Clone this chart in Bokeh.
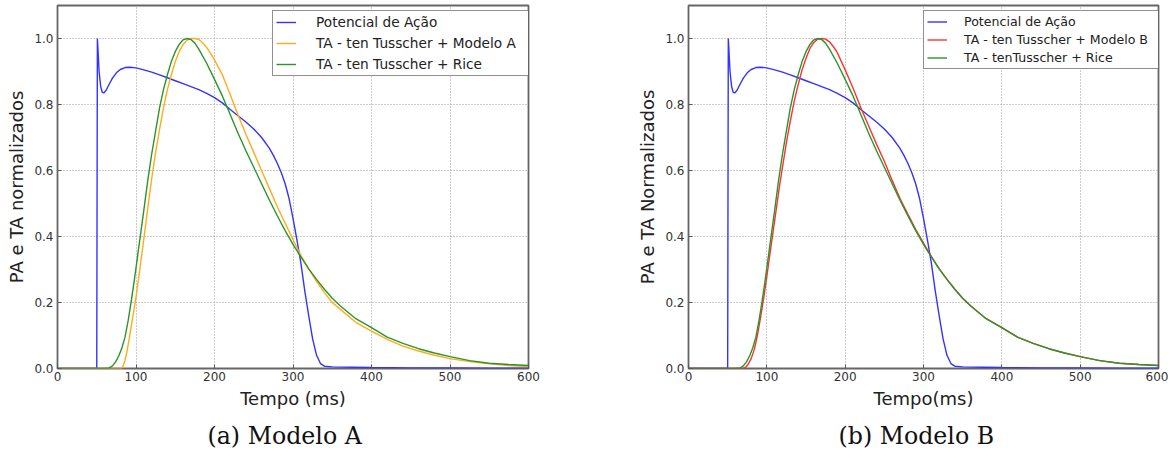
from bokeh.plotting import figure
from bokeh.models import Legend, LegendItem, FixedTicker, Range1d, Title, PrintfTickFormatter
from bokeh.layouts import row
from bokeh.embed import file_html
from bokeh.resources import INLINE

# ---------------- data ----------------
x_ticks = [0, 100, 200, 300, 400, 500, 600]
y_ticks = [0.0, 0.2, 0.4, 0.6, 0.8, 1.0]

ap_t = [0, 50, 50.8, 51.5, 53, 55, 57, 59, 62, 66, 70, 75, 80, 86, 92, 100, 110, 120,
        130, 140, 150, 160, 170, 180, 190, 200, 210, 220, 230, 240, 250, 260, 270, 275,
        280, 285, 290, 295, 300, 305, 310, 315, 320, 325, 330, 335, 340, 350, 375, 400,
        450, 500, 550, 600]
ap_v = [0, 0, 1.0, 0.97, 0.9, 0.855, 0.837, 0.835, 0.843, 0.862, 0.88, 0.896, 0.906,
        0.912, 0.913, 0.911, 0.905, 0.898, 0.89, 0.881, 0.872, 0.863, 0.854, 0.845, 0.834,
        0.821, 0.805, 0.785, 0.766, 0.747, 0.726, 0.70, 0.667, 0.646, 0.622, 0.594, 0.56,
        0.515, 0.455, 0.39, 0.32, 0.235, 0.16, 0.09, 0.04, 0.015, 0.007, 0.005, 0.004,
        0.003, 0.002, 0.002, 0.001, 0.001]

rice_t = [0, 60, 66, 70, 74, 78, 82, 86, 90, 94, 98, 102, 106, 110, 115, 120, 125, 130,
          135, 140, 145, 150, 155, 160, 165, 170, 175, 180, 190, 200, 210, 220, 230, 240,
          250, 260, 270, 280, 290, 300, 310, 320, 330, 340, 350, 360, 380, 400, 420, 440,
          460, 480, 500, 525, 550, 575, 600]
rice_v = [0, 0, 0.002, 0.008, 0.02, 0.038, 0.062, 0.095, 0.145, 0.205, 0.27, 0.34, 0.41,
          0.48, 0.57, 0.65, 0.72, 0.79, 0.845, 0.89, 0.93, 0.96, 0.982, 0.996, 1.0, 0.997,
          0.986, 0.968, 0.925, 0.876, 0.826, 0.77, 0.713, 0.66, 0.61, 0.56, 0.51, 0.463,
          0.418, 0.376, 0.338, 0.302, 0.27, 0.24, 0.213, 0.19, 0.151, 0.124, 0.095, 0.076,
          0.06, 0.047, 0.036, 0.024, 0.016, 0.012, 0.009]

modA_t = [0, 82, 84, 86, 88, 91, 94, 97, 100, 104, 108, 112, 116, 120, 125, 130, 135, 140,
          145, 150, 155, 160, 165, 170, 175, 180, 185, 190, 195, 200, 210, 220, 230, 240,
          250, 260, 270, 280, 290, 300, 310, 320, 330, 340, 350, 360, 380, 400, 420, 440,
          460, 480, 500, 525, 550, 575, 600]
modA_v = [0, 0, 0.01, 0.025, 0.045, 0.085, 0.13, 0.172, 0.216, 0.285, 0.357, 0.43, 0.505,
          0.575, 0.655, 0.725, 0.79, 0.845, 0.89, 0.93, 0.96, 0.982, 0.995, 1.0, 1.0, 0.997,
          0.987, 0.973, 0.955, 0.935, 0.89, 0.83, 0.768, 0.71, 0.655, 0.6, 0.545, 0.49,
          0.44, 0.39, 0.343, 0.302, 0.264, 0.23, 0.2, 0.18, 0.14, 0.113, 0.088, 0.068,
          0.053, 0.04, 0.03, 0.021, 0.014, 0.009, 0.006]

modB_t = [0, 70, 73, 76, 80, 84, 88, 92, 96, 100, 104, 108, 112, 116, 120, 125, 130, 135,
          140, 145, 150, 155, 160, 165, 170, 175, 180, 185, 190, 200, 210, 220, 230, 240,
          250, 260, 270, 280, 290, 300, 310, 320, 330, 340, 350, 360, 380, 400, 420, 440,
          460, 480, 500, 525, 550, 575, 600]
modB_v = [0, 0, 0.004, 0.012, 0.03, 0.058, 0.1, 0.155, 0.213, 0.278, 0.348, 0.415, 0.482,
          0.55, 0.61, 0.685, 0.75, 0.81, 0.86, 0.905, 0.94, 0.97, 0.988, 0.998, 1.0, 0.998,
          0.99, 0.975, 0.957, 0.905, 0.85, 0.79, 0.735, 0.68, 0.628, 0.57, 0.515, 0.468,
          0.422, 0.38, 0.34, 0.302, 0.27, 0.24, 0.213, 0.19, 0.151, 0.124, 0.095, 0.076,
          0.06, 0.047, 0.036, 0.024, 0.016, 0.012, 0.009]

labels_a = ["Potencial de Ação", "TA - ten Tusscher + Modelo A", "TA - ten Tusscher + Rice"]
labels_b = ["Potencial de Ação", "TA - ten Tusscher + Modelo B", "TA - tenTusscher + Rice"]
ylabel_a = "PA e TA normalizados"
ylabel_b = "PA e TA Normalizados"
xlabel_a = "Tempo (ms)"
xlabel_b = "Tempo(ms)"
caption_a = "(a) Modelo A"
caption_b = "(b) Modelo B"

BLUE = "#3333ff"
ORANGE = "#ffab1a"
GREEN = "#2a952a"
RED = "#ff3030"
FONT = "DejaVu Sans"


def make_fig(frame_w, bl, br, xlabel, ylabel, caption, cap_offset):
    p = figure(frame_width=frame_w, frame_height=363,
               x_range=Range1d(0, 600), y_range=Range1d(0, 1.1),
               output_backend="svg", toolbar_location=None,
               min_border_left=bl, min_border_right=br, min_border_top=5,
               min_border_bottom=10)
    p.background_fill_color = "white"
    p.outline_line_color = "#666666"
    p.outline_line_width = 1.8
    for ax in (p.xaxis[0], p.yaxis[0]):
        ax.axis_line_color = None
        ax.major_tick_in = 4
        ax.major_tick_out = 0
        ax.minor_tick_line_color = None
        ax.major_tick_line_color = "#555555"
        ax.major_label_text_font = FONT
        ax.major_label_text_font_size = "12px"
        ax.major_label_text_color = "#333333"
        ax.axis_label_text_font = FONT
        ax.axis_label_text_font_size = "18px"
        ax.axis_label_text_font_style = "normal"
        ax.axis_label_text_color = "#222222"
    p.xaxis[0].ticker = FixedTicker(ticks=x_ticks)
    p.yaxis[0].ticker = FixedTicker(ticks=y_ticks)
    p.yaxis[0].formatter = PrintfTickFormatter(format="%.1f")
    p.xaxis[0].axis_label = xlabel
    p.yaxis[0].axis_label = ylabel
    p.xaxis[0].major_label_standoff = 3
    p.yaxis[0].major_label_standoff = 4
    p.xaxis[0].axis_label_standoff = 4
    p.yaxis[0].axis_label_standoff = 4
    p.xgrid.ticker = FixedTicker(ticks=x_ticks)
    p.ygrid.ticker = FixedTicker(ticks=y_ticks)
    for g in (p.xgrid[0], p.ygrid[0]):
        g.grid_line_color = "#999999"
        g.grid_line_dash = "1 2"
        g.grid_line_width = 1
    cap = Title(text=caption, align="left", offset=cap_offset, text_font="DejaVu Serif",
                text_font_size="23.7px", text_font_style="normal", text_color="#111111",
                standoff=17)
    p.add_layout(cap, "below")
    return p


def make_legend(renderers, labels, loc, fs, row_h, spacing, standoff, lw):
    return Legend(items=[LegendItem(label=l, renderers=[r]) for l, r in zip(labels, renderers)],
                  location=loc, margin=0, padding=3, spacing=spacing,
                  glyph_width=20, glyph_height=row_h, label_height=row_h,
                  label_standoff=standoff, label_width=lw,
                  label_text_font=FONT, label_text_font_size=fs,
                  label_text_color="#222222",
                  border_line_color="#222222", border_line_width=1,
                  background_fill_color="white", background_fill_alpha=1.0)


# ---------- left panel ----------
p1 = make_fig(471, 57, 102, xlabel_a, ylabel_a, caption_a, 150)
r1 = p1.line(ap_t, ap_v, line_color=BLUE, line_width=1.4)
r2 = p1.line(modA_t, modA_v, line_color=ORANGE, line_width=1.4)
r3 = p1.line(rice_t, rice_v, line_color=GREEN, line_width=1.4)
p1.add_layout(make_legend([r1, r2, r3], labels_a, (215, 292), "13.7px", 16, 5, 20, 209), "center")

# ---------- right panel ----------
p2 = make_fig(470, 58, 10, xlabel_b, ylabel_b, caption_b, 150)
s1 = p2.line(ap_t, ap_v, line_color=BLUE, line_width=1.4)
s2 = p2.line(modB_t, modB_v, line_color=RED, line_width=1.4)
s3 = p2.line(rice_t, rice_v, line_color=GREEN, line_width=1.4)
p2.add_layout(make_legend([s1, s2, s3], labels_b, (235, 299), "12.6px", 13, 3, 17, 192), "center")

layout = row(p1, p2, spacing=0)
open("out.html", "w").write(file_html(layout, INLINE))
